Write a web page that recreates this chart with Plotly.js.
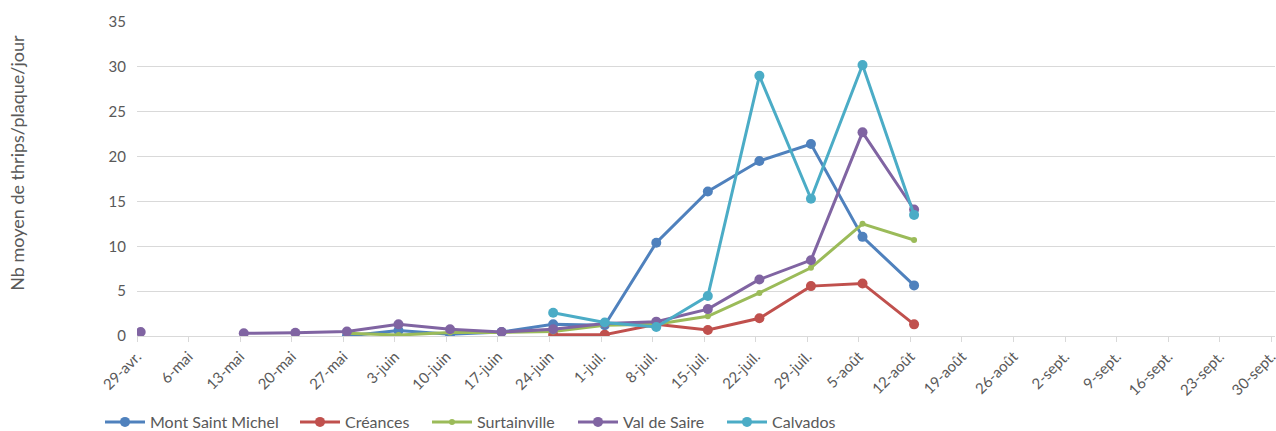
<!DOCTYPE html>
<html>
<head>
<meta charset="utf-8">
<script src="https://cdn.plot.ly/plotly-3.0.1.min.js"></script>
<style>html,body{margin:0;padding:0;background:#fff;}#chart{width:1276px;height:431px;}</style>
</head>
<body>
<div id="chart"></div>
<script>
// Sampling dates (weekly)
const dates = ['2019-04-29','2019-05-06','2019-05-13','2019-05-20','2019-05-27','2019-06-03','2019-06-10','2019-06-17','2019-06-24','2019-07-01','2019-07-08','2019-07-15','2019-07-22','2019-07-29','2019-08-05','2019-08-12'];

const montSaintMichel = [null,null,null,null,0.0,0.6,0.2,0.45,1.3,1.2,10.4,16.1,19.5,21.4,11.05,5.64];
const creances        = [null,null,null,null,null,null,null,null,0.15,0.15,1.3,0.67,1.97,5.56,5.86,1.3];
const surtainville    = [null,null,null,null,0.3,0.1,0.4,0.4,0.5,1.2,1.3,2.2,4.8,7.6,12.5,10.7];
const valDeSaire      = [0.45,null,0.3,0.35,0.5,1.3,0.75,0.45,0.75,1.4,1.6,3.0,6.3,8.45,22.7,14.1];
const calvados        = [null,null,null,null,null,null,null,null,2.6,1.5,1.0,4.45,29.0,15.3,30.2,13.5];

const seriesNames = ['Mont Saint Michel','Créances','Surtainville','Val de Saire','Calvados'];

// Axis ticks
const tickDates = ['2019-04-29','2019-05-06','2019-05-13','2019-05-20','2019-05-27','2019-06-03','2019-06-10','2019-06-17','2019-06-24','2019-07-01','2019-07-08','2019-07-15','2019-07-22','2019-07-29','2019-08-05','2019-08-12','2019-08-19','2019-08-26','2019-09-02','2019-09-09','2019-09-16','2019-09-23','2019-09-30'];
const tickLabels = ['29-avr.','6-mai','13-mai','20-mai','27-mai','3-juin','10-juin','17-juin','24-juin','1-juil.','8-juil.','15-juil.','22-juil.','29-juil.','5-août','12-août','19-août','26-août','2-sept.','9-sept.','16-sept.','23-sept.','30-sept.'];
const yTicks = [0,5,10,15,20,25,30,35];

// Excel date axis centres points in the middle of each day
const xs = dates.map(d => d + ' 12:00');

const colors = ['#4F81BD','#C0504D','#9BBB59','#8064A2','#4BACC6'];
const values = [montSaintMichel, creances, surtainville, valDeSaire, calvados];
const markerSizes = [10,10,6,10,10];
const legendIds = ['legend','legend2','legend3','legend4','legend5'];
const legendLeftPx = [100, 295, 427, 573, 722];

const traces = values.map((v,i) => ({
  type:'scatter', mode:'lines+markers', name:seriesNames[i],
  x: xs, y: v, connectgaps:false, legend: legendIds[i],
  line:{color:colors[i], width:3},
  marker:{color:colors[i], size:markerSizes[i]}
}));

const font = {family:'Lato, "Open Sans", sans-serif', color:'#595959'};

const layout = {
  width:1276, height:431,
  margin:{l:137, r:1, t:22, b:95},
  paper_bgcolor:'#fff', plot_bgcolor:'#fff',
  font: font,
  showlegend:true,
  xaxis:{
    type:'date', range:['2019-04-29','2019-09-30 12:00'], automargin:false,
    tickmode:'array', tickvals:tickDates, ticktext:tickLabels,
    tickangle:-45, tickfont:{size:15, color:'#595959', family:font.family},
    ticklabeloverflow:'allow',
    showgrid:false, showline:true, linecolor:'#D9D9D9', linewidth:1,
    ticks:'outside', ticklen:5, tickcolor:'#D9D9D9', zeroline:false
  },
  yaxis:{
    range:[0,35], tickmode:'array', tickvals:yTicks, automargin:false,
    tickfont:{size:15, color:'#595959', family:font.family},
    showgrid:true, gridcolor:'#D9D9D9', gridwidth:1,
    zeroline:false, showline:false, ticks:'', ticklabelstandoff:10
  },
  annotations:[{
    text:'Nb moyen de thrips/plaque/jour', textangle:-90,
    xref:'paper', yref:'paper', x:-0.105, y:0.55, xanchor:'center', yanchor:'middle',
    showarrow:false, font:{size:18, color:'#595959', family:font.family}
  }]
};

legendIds.forEach((id,i) => {
  layout[id] = {orientation:'h', xref:'container', yref:'container',
    x: legendLeftPx[i]/1276, xanchor:'left', y: 9/431, yanchor:'middle',
    font:{family:font.family, color:'#595959', size:16}, itemwidth:40, bgcolor:'rgba(0,0,0,0)'};
});

Plotly.newPlot('chart', traces, layout, {displayModeBar:false, staticPlot:true});
</script>
</body>
</html>
